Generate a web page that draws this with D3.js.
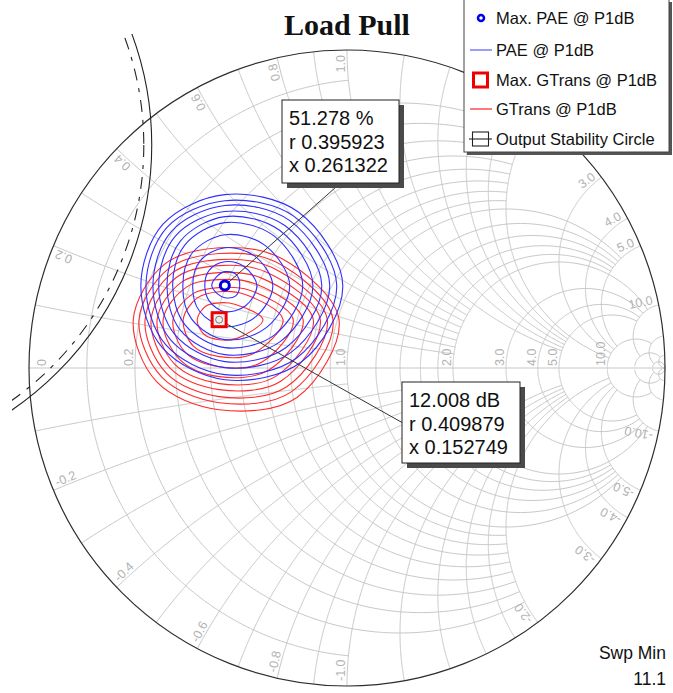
<!DOCTYPE html>
<html>
<head>
<meta charset="utf-8">
<script src="https://cdn.jsdelivr.net/npm/d3@7"></script>
<style>
  html, body { margin: 0; padding: 0; background: #fff; }
  svg { display: block; font-family: Arial, "Liberation Sans", sans-serif; }
</style>
</head>
<body>
<svg id="chart" width="673" height="693"></svg>
<script>
// ---- Smith chart grid: constant-resistance circles and constant-reactance arcs ----
const resistanceCircles = [0.1, 0.2, 0.3, 0.4, 0.5, 0.6, 0.7, 0.8, 0.9, 1.0, 1.2, 1.4, 1.6, 1.8, 2, 3, 4, 5, 10, 20, 50];
const resistanceLimits  = [1, 2, 2, 2, 2, 2, 2, 2, 2, 5, 5, 5, 5, 5, 10, 10, 10, 10, 20, 50, Infinity];
const reactanceArcs     = [0.1, 0.2, 0.3, 0.4, 0.5, 0.6, 0.7, 0.8, 0.9, 1.0, 1.2, 1.4, 1.6, 1.8, 2, 3, 4, 5, 10, 20, 50];
const reactanceLimits   = [1, 2, 2, 2, 2, 2, 2, 2, 2, 5, 5, 5, 5, 5, 10, 10, 10, 10, 20, 50, Infinity];
const axisTickLabels      = [0, 0.2, 1.0, 2.0, 3.0, 4.0, 5.0, 10.0];
const reactanceTickLabels = [0.2, 0.4, 0.6, 0.8, 1.0, 2.0, 3.0, 4.0, 5.0, 10.0];

// ---- Load-pull contours: radius (in reflection-coefficient units) at each bearing from the optimum ----
const contourBearings = [0, 45, 90, 135, 180, 225, 270, 315];
const paeContours = [
  [0.371, 0.327, 0.286, 0.274, 0.264, 0.277, 0.296, 0.340],
  [0.352, 0.308, 0.267, 0.258, 0.248, 0.263, 0.280, 0.321],
  [0.330, 0.289, 0.252, 0.239, 0.226, 0.241, 0.258, 0.296],
  [0.305, 0.267, 0.233, 0.220, 0.208, 0.220, 0.239, 0.274],
  [0.277, 0.245, 0.217, 0.198, 0.182, 0.198, 0.217, 0.248],
  [0.245, 0.220, 0.198, 0.179, 0.164, 0.176, 0.195, 0.220],
  [0.204, 0.179, 0.160, 0.145, 0.132, 0.148, 0.170, 0.186],
  [0.151, 0.132, 0.119, 0.110, 0.101, 0.113, 0.129, 0.138],
  [0.101, 0.085, 0.075, 0.069, 0.063, 0.069, 0.082, 0.091],
  [0.047, 0.050, 0.044, 0.038, 0.041, 0.035, 0.038, 0.047]
];
const gtransContours = [
  [0.377, 0.274, 0.226, 0.245, 0.270, 0.277, 0.283, 0.346],
  [0.358, 0.255, 0.208, 0.226, 0.252, 0.255, 0.261, 0.321],
  [0.340, 0.233, 0.189, 0.208, 0.233, 0.236, 0.242, 0.299],
  [0.318, 0.211, 0.170, 0.189, 0.214, 0.217, 0.220, 0.274],
  [0.296, 0.186, 0.148, 0.167, 0.195, 0.198, 0.201, 0.252],
  [0.264, 0.160, 0.126, 0.145, 0.176, 0.176, 0.179, 0.223],
  [0.233, 0.132, 0.101, 0.116, 0.145, 0.148, 0.148, 0.189],
  [0.201, 0.113, 0.088, 0.097, 0.113, 0.116, 0.116, 0.151],
  [0.138, 0.069, 0.053, 0.060, 0.069, 0.066, 0.063, 0.082]
];

// ---- Optimum points (normalized impedance) ----
const paeMax    = { value: 51.278, unit: "%",  r: 0.395923, x: 0.261322 };
const gtransMax = { value: 12.008, unit: "dB", r: 0.409879, x: 0.152749 };

// ---- Output stability circle (centre and radius in the reflection plane) ----
const stabilityCenter = [-1.623, 0.701];
const stabilityRadius = 1.009;
const stabilityHatchRadius = 0.984;

const legendLabels = ["Max. PAE @ P1dB", "PAE @ P1dB", "Max. GTrans @ P1dB", "GTrans @ P1dB", "Output Stability Circle"];
const sweepLabels = ["Swp Min", "11.1"];
const chartTitle = "Load Pull";

// ---------------------------------------------------------------------------
const svg = d3.select("#chart");
const CX = 347, CY = 368, RAD = 318;
const gx = d3.scaleLinear().domain([-1, 1]).range([CX - RAD, CX + RAD]);
const gy = d3.scaleLinear().domain([-1, 1]).range([CY + RAD, CY - RAD]);
const line = d3.line().x(d => gx(d[0])).y(d => gy(d[1]));

// z = r + jx  ->  reflection coefficient
function gamma(r, x) {
  const den = (r + 1) * (r + 1) + x * x;
  return [(r * r + x * x - 1) / den, 2 * x / den];
}

const GRID = "#c6c6c6";
const gridG = svg.append("g").attr("fill", "none").attr("stroke", GRID).attr("stroke-width", 1);

// constant-resistance arcs, drawn between -limit and +limit reactance
resistanceCircles.forEach((r, i) => {
  const lim = Math.atan(resistanceLimits[i]);
  const pts = d3.range(0, 601).map(k => {
    const s = -lim + (2 * lim) * k / 600;
    return gamma(r, Math.tan(s));
  });
  gridG.append("path").attr("d", line(pts));
});

// constant-reactance arcs, drawn from the rim up to the limiting resistance
reactanceArcs.forEach((x, i) => {
  const lim = Math.atan(reactanceLimits[i]);
  [1, -1].forEach(sign => {
    const pts = d3.range(0, 401).map(k => gamma(Math.tan(lim * k / 400), sign * x));
    gridG.append("path").attr("d", line(pts));
  });
});

// real axis
gridG.append("line")
  .attr("x1", gx(-1)).attr("y1", gy(0)).attr("x2", gx(1)).attr("y2", gy(0));

// rim (r = 0)
svg.append("circle").attr("cx", gx(0)).attr("cy", gy(0)).attr("r", gx(1) - gx(0))
  .attr("fill", "none").attr("stroke", "#2e2e2e").attr("stroke-width", 1.2);

// ---- grid labels ----
const labelG = svg.append("g").attr("fill", "#b2b2b2").attr("font-size", 12.5);
axisTickLabels.forEach(r => {
  const px = r === 0 ? gx(-1) + 17 : gx(gamma(r, 0)[0]) - 2;
  labelG.append("text")
    .attr("transform", `translate(${px},${gy(0) - 2}) rotate(-90)`)
    .attr("text-anchor", "start")
    .text(r === 0 ? "0" : r.toFixed(1));
});
reactanceTickLabels.forEach(x => {
  [1, -1].forEach(sign => {
    const e = gamma(0, sign * x);
    const th = Math.atan2(e[1], e[0]);
    const ox = Math.cos(th), oy = -Math.sin(th);
    const px = gx(e[0]) - 5 * ox, py = gy(e[1]) - 5 * oy;
    const deg = th * 180 / Math.PI;
    const ang = sign > 0 ? -deg : -deg - 180;
    labelG.append("text")
      .attr("transform", `translate(${px},${py}) rotate(${ang})`)
      .attr("text-anchor", sign > 0 ? "end" : "start")
      .attr("dy", -2)
      .text((sign > 0 ? "" : "-") + x.toFixed(1));
  });
});

// ---- output stability circle ----
svg.append("clipPath").attr("id", "plotClip")
  .append("rect").attr("x", 12).attr("y", 34).attr("width", 655).attr("height", 655);
const stabG = svg.append("g").attr("clip-path", "url(#plotClip)").attr("fill", "none");
stabG.append("circle")
  .attr("cx", gx(stabilityCenter[0])).attr("cy", gy(stabilityCenter[1]))
  .attr("r", gx(stabilityRadius) - gx(0))
  .attr("stroke", "#222").attr("stroke-width", 1.1);
stabG.append("circle")
  .attr("cx", gx(stabilityCenter[0])).attr("cy", gy(stabilityCenter[1]))
  .attr("r", gx(stabilityHatchRadius) - gx(0))
  .attr("stroke", "#222").attr("stroke-width", 1.1)
  .attr("stroke-dasharray", "12,8,4,8");

// ---- contours ----
const contourLine = d3.line().x(d => gx(d[0])).y(d => gy(d[1])).curve(d3.curveCatmullRomClosed);
function contourPoints(center, radii) {
  return radii.map((rr, k) => {
    const a = contourBearings[k] * Math.PI / 180;
    return [center[0] + rr * Math.cos(a), center[1] + rr * Math.sin(a)];
  });
}
const paeG = gamma(paeMax.r, paeMax.x);
const gtG = gamma(gtransMax.r, gtransMax.x);

svg.append("g").attr("fill", "none").attr("stroke", "#ff2b2b").attr("stroke-width", 1.1)
  .selectAll("path").data(gtransContours).join("path")
  .attr("d", d => contourLine(contourPoints(gtG, d)));
svg.append("g").attr("fill", "none").attr("stroke", "#2f2fff").attr("stroke-width", 1.1)
  .selectAll("path").data(paeContours).join("path")
  .attr("d", d => contourLine(contourPoints(paeG, d)));

// ---- annotation boxes and leader lines ----
const box1 = { x: 282, y: 100, w: 117, h: 83 };
const box2 = { x: 402, y: 382, w: 118, h: 81 };
svg.append("line")
  .attr("x1", gx(paeG[0])).attr("y1", gy(paeG[1]))
  .attr("x2", box1.x + box1.w / 2).attr("y2", box1.y + box1.h)
  .attr("stroke", "#333").attr("stroke-width", 1);
svg.append("line")
  .attr("x1", gx(gtG[0])).attr("y1", gy(gtG[1]))
  .attr("x2", box2.x).attr("y2", box2.y + box2.h / 2)
  .attr("stroke", "#333").attr("stroke-width", 1);

// markers
svg.append("circle").attr("cx", gx(paeG[0])).attr("cy", gy(paeG[1])).attr("r", 4.5)
  .attr("fill", "#fff").attr("stroke", "#0000e6").attr("stroke-width", 3);
svg.append("rect").attr("x", gx(gtG[0]) - 7).attr("y", gy(gtG[1]) - 7)
  .attr("width", 14).attr("height", 14)
  .attr("fill", "#f2eeee").attr("stroke", "#ee0000").attr("stroke-width", 3);
svg.append("circle").attr("cx", gx(gtG[0])).attr("cy", gy(gtG[1])).attr("r", 3.5)
  .attr("fill", "none").attr("stroke", "#777").attr("stroke-width", 1);

function annotation(box, pt) {
  const g = svg.append("g");
  g.append("rect").attr("x", box.x + 5).attr("y", box.y + 5).attr("width", box.w).attr("height", box.h)
    .attr("fill", "#4a4a4a");
  g.append("rect").attr("x", box.x).attr("y", box.y).attr("width", box.w).attr("height", box.h)
    .attr("fill", "#fff").attr("stroke", "#222").attr("stroke-width", 1);
  const lines = [pt.value.toFixed(3) + " " + pt.unit, "r " + pt.r.toFixed(6), "x " + pt.x.toFixed(6)];
  g.selectAll("text").data(lines).join("text")
    .attr("x", box.x + 7).attr("y", (d, i) => box.y + 25 + i * 23.5)
    .attr("font-size", 20).attr("fill", "#111").text(d => d);
}
annotation(box1, paeMax);
annotation(box2, gtransMax);

// ---- legend ----
const leg = svg.append("g");
leg.append("rect").attr("x", 467).attr("y", 2).attr("width", 205).attr("height", 153).attr("fill", "#555");
leg.append("rect").attr("x", 464).attr("y", -1).attr("width", 205).attr("height", 153)
  .attr("fill", "#fff").attr("stroke", "#444").attr("stroke-width", 1);
const rowY = [18, 50, 80, 109, 139];
leg.selectAll("text").data(legendLabels).join("text")
  .attr("x", 496).attr("y", (d, i) => rowY[i] + 6)
  .attr("font-size", 16.5).attr("fill", "#111").text(d => d);
leg.append("circle").attr("cx", 481).attr("cy", rowY[0]).attr("r", 3)
  .attr("fill", "#fff").attr("stroke", "#0000e6").attr("stroke-width", 2.5);
leg.append("line").attr("x1", 470).attr("x2", 492).attr("y1", rowY[1]).attr("y2", rowY[1])
  .attr("stroke", "#5a5aff").attr("stroke-width", 1.2);
leg.append("rect").attr("x", 473.5).attr("y", rowY[2] - 7).attr("width", 14).attr("height", 14)
  .attr("fill", "#fff").attr("stroke", "#ee0000").attr("stroke-width", 3);
leg.append("line").attr("x1", 470).attr("x2", 492).attr("y1", rowY[3]).attr("y2", rowY[3])
  .attr("stroke", "#ff2020").attr("stroke-width", 1.2);
leg.append("rect").attr("x", 472.5).attr("y", rowY[4] - 7).attr("width", 16).attr("height", 14)
  .attr("fill", "none").attr("stroke", "#222").attr("stroke-width", 1.1);
leg.append("line").attr("x1", 469).attr("x2", 492).attr("y1", rowY[4]).attr("y2", rowY[4])
  .attr("stroke", "#222").attr("stroke-width", 1.1);

// ---- title and sweep note ----
svg.append("text").attr("x", 347).attr("y", 35).attr("text-anchor", "middle")
  .attr("font-family", "'Liberation Serif', 'Times New Roman', serif")
  .attr("font-weight", "bold").attr("font-size", 30).attr("fill", "#111").text(chartTitle);
svg.selectAll("text.sweep").data(sweepLabels).join("text").attr("class", "sweep")
  .attr("x", 666).attr("y", (d, i) => 659 + i * 26).attr("text-anchor", "end")
  .attr("font-size", 17.5).attr("fill", "#111").text(d => d);
</script>
</body>
</html>
